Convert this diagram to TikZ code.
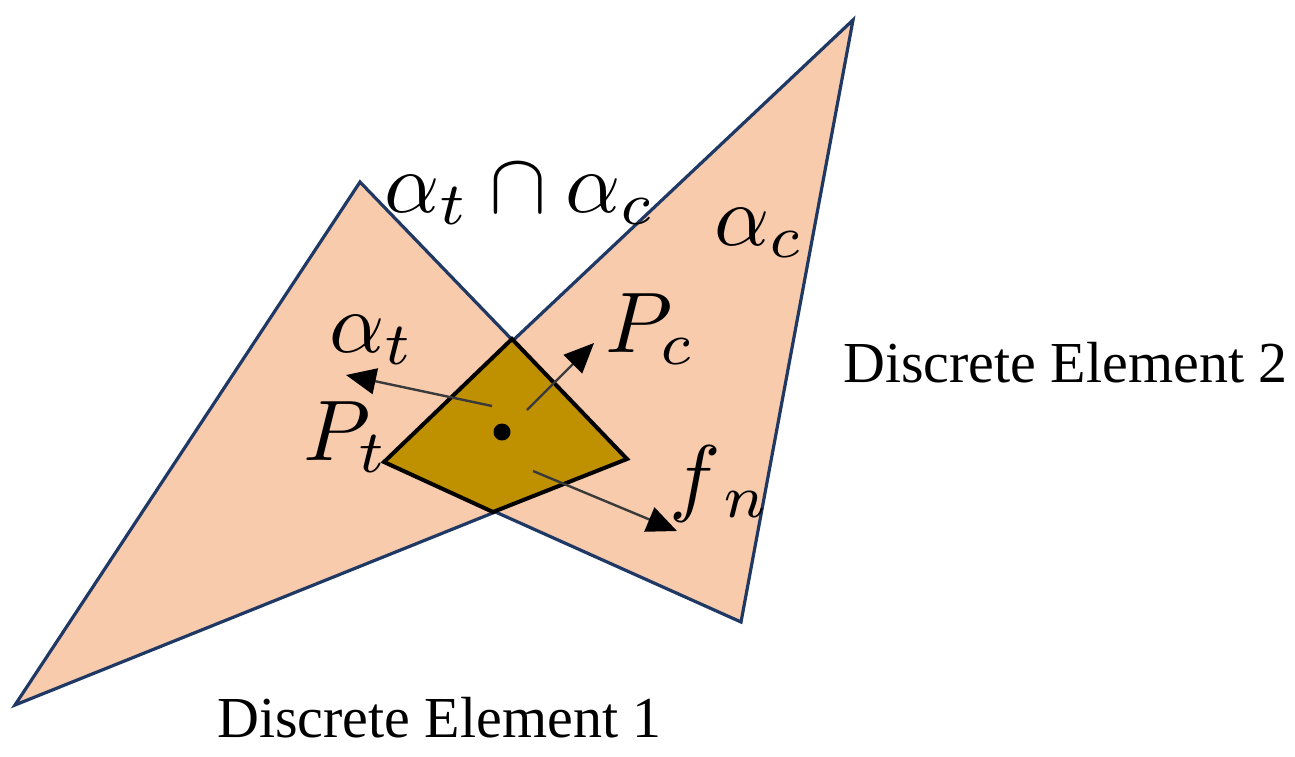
\documentclass[tikz,border=0pt]{standalone}
\usepackage{fontspec}
\setmainfont{Liberation Serif}
\usetikzlibrary{arrows.meta}
\definecolor{peach}{HTML}{F8CBAD}
\definecolor{navy}{HTML}{1F3864}
\definecolor{gold}{HTML}{BF9000}
\definecolor{arrowgray}{HTML}{3A3A3A}
\tikzset{
  element/.style={fill=peach, draw=navy, line width=3.2pt, line join=miter},
  contact/.style={fill=gold, draw=black, line width=4pt, line join=miter},
  mathlbl/.style={anchor=base west, inner sep=0pt, font=\fontsize{10}{12}\selectfont, scale=8.6, transform shape},
  textlbl/.style={anchor=base west, inner sep=0pt, font=\fontsize{58}{62}\selectfont},
  vec/.style={draw=arrowgray, line width=2.4pt, -{Triangle[length=30pt,width=26pt,color=black]}},
}
\begin{document}
\begin{tikzpicture}[x=1pt,y=-1pt]
\useasboundingbox (0,0) rectangle (1295,756);
% triangle vertices
\coordinate (A1) at (15,705);
\coordinate (A2) at (360,182);
\coordinate (A3) at (627,459);
\coordinate (B1) at (853,20);
\coordinate (B2) at (741,622);
\coordinate (B3) at (384,462);
% intersection quadrilateral
\coordinate (Q1) at (512,339);
\coordinate (Q2) at (627,459);
\coordinate (Q3) at (493,512);
\coordinate (Q4) at (384,462);
\path[element] (A1) -- (A2) -- (A3) -- cycle;
\path[element] (B1) -- (B2) -- (B3) -- cycle;
\path[contact] (Q1) -- (Q2) -- (Q3) -- (Q4) -- cycle;
% centre point
\node (dot) [circle, fill=black, inner sep=0pt, minimum size=17pt] at (502,432) {};
\coordinate (s1) at (492,406);
\coordinate (e1) at (346,375);
\coordinate (s2) at (527,410);
\coordinate (e2) at (594,343);
\coordinate (s3) at (533,471);
\coordinate (e3) at (677,531);
\draw[vec] (s1) -- (e1);
\draw[vec] (s2) -- (e2);
\draw[vec] (s3) -- (e3);
% labels
\node (inter) [mathlbl] at (383,212) {$\alpha_t \cap \alpha_c$};
\node (ac) [mathlbl] at (713,245) {$\alpha_c$};
\node (at) [mathlbl] at (328,352) {$\alpha_t$};
\node (pc) [mathlbl] at (604,352) {$P_c$};
\node (pt) [mathlbl] at (302,460) {$P_t$};
\node (fn) [mathlbl] at (668,505) {$f_{\,n}$};
\node (de2) [textlbl] at (843,382) {Discrete Element 2};
\node (de1) [textlbl] at (217,737) {Discrete Element 1};
\end{tikzpicture}
\end{document}
